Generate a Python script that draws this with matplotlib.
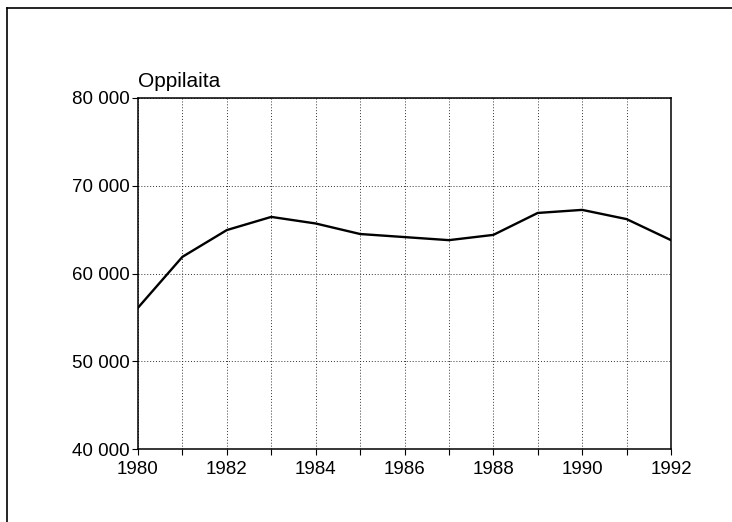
import matplotlib.pyplot as plt
from matplotlib.lines import Line2D
from matplotlib.ticker import FuncFormatter

plt.rcParams['font.family'] = ['Liberation Sans', 'DejaVu Sans']

years = [1980, 1981, 1982, 1983, 1984, 1985, 1986, 1987, 1988, 1989, 1990, 1991, 1992]
pupils = [56100, 61900, 64950, 66450, 65700, 64500, 64150, 63800, 64400, 66900, 67250, 66200, 63800]
xticks = [1980, 1982, 1984, 1986, 1988, 1990, 1992]
yticks = [40000, 50000, 60000, 70000, 80000]
ylabel = 'Oppilaita'

fig = plt.figure(figsize=(7.32, 5.22), dpi=100)
ax = fig.add_axes([138/732, 1 - 449/522, (671 - 138)/732, (449 - 98)/522])

ax.plot(years, pupils, color='black', lw=1.7, solid_joinstyle='miter')

ax.set_xlim(1980, 1992)
ax.set_ylim(40000, 80000)
ax.set_xticks(years, minor=True)
ax.set_xticks(xticks)
ax.set_yticks(yticks)
ax.yaxis.set_major_formatter(FuncFormatter(lambda v, p: f'{int(v):,}'.replace(',', ' ')))
ax.grid(True, which='both', axis='x', ls=(0, (1, 2)), color='#333333', lw=0.7)
ax.grid(True, axis='y', ls=(0, (1, 2)), color='#333333', lw=0.7)
ax.tick_params(which='both', direction='out', length=4, width=0.8, labelsize=13.5, color='black')
ax.tick_params(axis='x', pad=5)
ax.tick_params(axis='y', pad=2)
for s in ax.spines.values():
    s.set_linewidth(1.1)
    s.set_color('black')

ax.text(0, 1.02, ylabel, transform=ax.transAxes, ha='left', va='bottom', fontsize=15)

# outer frame of the scanned page
fig.add_artist(Line2D([7/732, 7/732], [0, 1 - 8/522], color='black', lw=1.2, transform=fig.transFigure))
fig.add_artist(Line2D([7/732, 1], [1 - 8/522, 1 - 8/522], color='black', lw=1.2, transform=fig.transFigure))

fig.savefig('out.png', dpi=100)
